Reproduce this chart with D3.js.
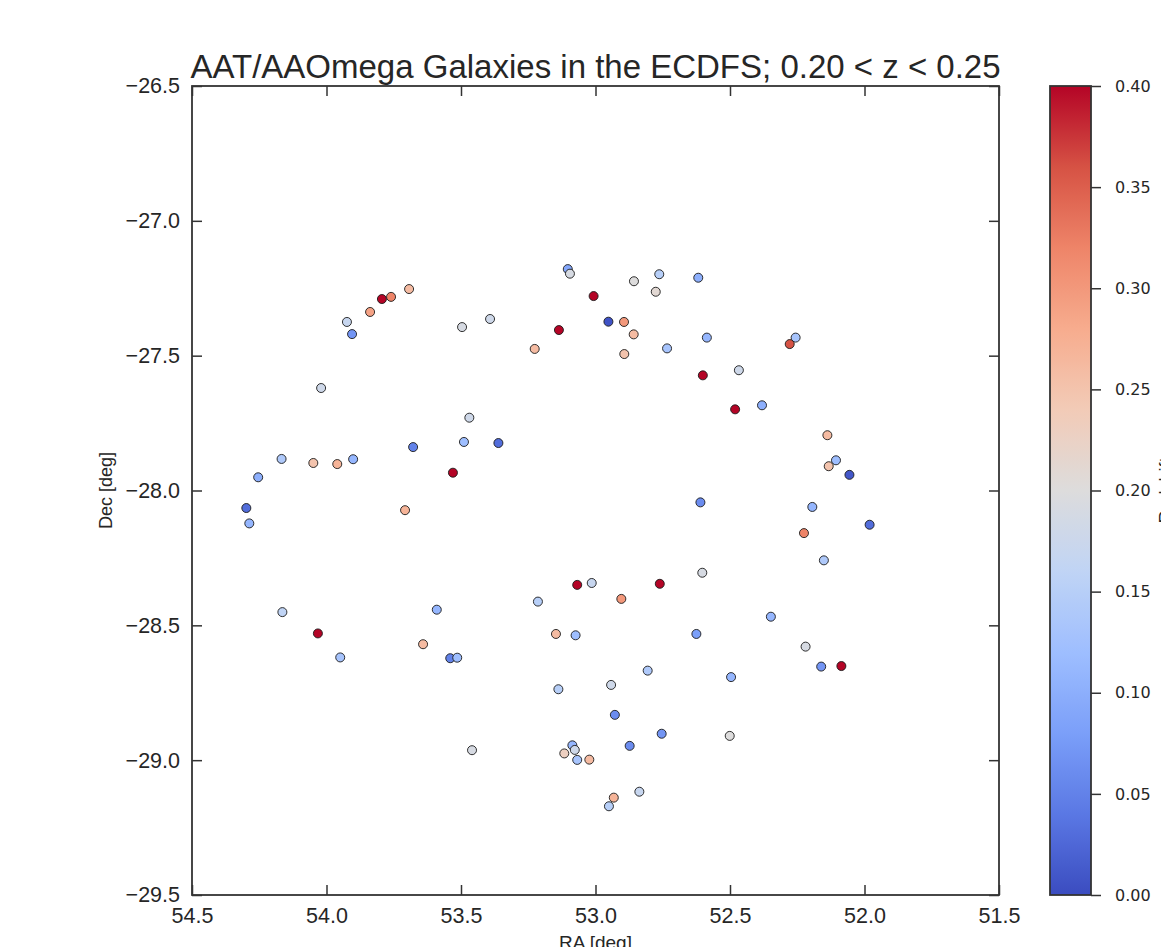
<!DOCTYPE html>
<html>
<head>
<meta charset="utf-8">
<script src="https://cdn.jsdelivr.net/npm/d3@7"></script>
<style>
  html, body { margin: 0; padding: 0; background: #fff; }
  svg { display: block; }
</style>
</head>
<body>
<svg id="chart" width="1161" height="947"></svg>
<script>
// ---- Data ----
const titleText = "AAT/AAOmega Galaxies in the ECDFS; 0.20 < z < 0.25";
const xLabel = "RA [deg]";
const yLabel = "Dec [deg]";
const cbLabel = "Redshift";

const ra = [
  53.794, 53.760, 53.693, 53.838, 53.924, 53.905, 54.020, 53.496, 53.392, 53.469,
  53.489, 53.361, 53.678, 53.530, 54.167, 54.254, 54.049, 53.960, 53.901, 54.298,
  54.287, 53.708, 53.103, 53.095, 52.857, 52.763, 52.618, 52.776, 53.007, 53.136,
  52.952, 52.894, 52.858, 53.226, 52.893, 52.734, 52.586, 52.467, 52.601, 52.481,
  52.381, 52.610, 52.256, 52.278, 52.138, 52.106, 52.133, 52.056, 52.194, 51.981,
  52.225, 52.151, 52.348, 52.219, 52.161, 52.086, 54.164, 54.032, 53.949, 53.590,
  53.641, 53.540, 53.514, 53.459, 53.068, 53.014, 52.761, 52.603, 52.904, 53.214,
  53.147, 53.074, 52.625, 52.806, 52.496, 53.138, 52.942, 52.928, 52.754, 52.501,
  52.873, 53.086, 53.077, 53.116, 53.068, 53.023, 52.837, 52.932, 52.950
];
const dec = [
  -27.290, -27.282, -27.253, -27.338, -27.375, -27.420, -27.620, -27.394, -27.364, -27.730,
  -27.820, -27.824, -27.839, -27.934, -27.883, -27.951, -27.898, -27.902, -27.884, -28.065,
  -28.122, -28.073, -27.179, -27.196, -27.224, -27.198, -27.211, -27.263, -27.279, -27.405,
  -27.374, -27.375, -27.421, -27.475, -27.494, -27.473, -27.433, -27.554, -27.573, -27.699,
  -27.684, -28.044, -27.433, -27.457, -27.795, -27.888, -27.910, -27.942, -28.061, -28.127,
  -28.158, -28.259, -28.468, -28.579, -28.653, -28.651, -28.451, -28.530, -28.619, -28.442,
  -28.570, -28.622, -28.620, -28.963, -28.350, -28.343, -28.346, -28.305, -28.402, -28.412,
  -28.532, -28.537, -28.532, -28.668, -28.692, -28.737, -28.721, -28.832, -28.902, -28.910,
  -28.947, -28.945, -28.962, -28.975, -28.999, -28.998, -29.117, -29.139, -29.171
];
const zval = [
  0.40, 0.32, 0.26, 0.29, 0.17, 0.07, 0.18, 0.19, 0.18, 0.18,
  0.12, 0.03, 0.05, 0.40, 0.14, 0.10, 0.25, 0.27, 0.11, 0.03,
  0.11, 0.27, 0.09, 0.19, 0.20, 0.15, 0.10, 0.21, 0.40, 0.40,
  0.005, 0.30, 0.26, 0.26, 0.25, 0.13, 0.11, 0.18, 0.40, 0.40,
  0.10, 0.06, 0.13, 0.36, 0.26, 0.12, 0.25, 0.01, 0.11, 0.03,
  0.32, 0.14, 0.11, 0.19, 0.07, 0.40, 0.16, 0.40, 0.13, 0.11,
  0.26, 0.05, 0.12, 0.19, 0.40, 0.17, 0.40, 0.19, 0.30, 0.15,
  0.26, 0.12, 0.08, 0.14, 0.11, 0.15, 0.18, 0.06, 0.07, 0.20,
  0.06, 0.11, 0.18, 0.23, 0.13, 0.26, 0.17, 0.27, 0.15
];

const xTicks = [54.5, 54.0, 53.5, 53.0, 52.5, 52.0, 51.5];
const yTicks = [-26.5, -27.0, -27.5, -28.0, -28.5, -29.0, -29.5];
const cbTicks = [0.00, 0.05, 0.10, 0.15, 0.20, 0.25, 0.30, 0.35, 0.40];

// coolwarm colormap stops
const cmapStops = ["#3b4cc0", "#5a78e4", "#7b9ff9", "#9ebeff", "#c0d4f5", "#dddcdc",
                   "#f2cbb7", "#f7ac8e", "#ee8468", "#d65244", "#b40426"];

// ---- Layout ----
const L = 192, R = 999, T = 86, B = 895;
const CBL = 1050, CBR = 1091;
const mainFont = "'Liberation Sans', Arial, Helvetica, sans-serif";
const cbFont = "'DejaVu Sans', Verdana, sans-serif";
const ink = "#262626";

const svg = d3.select("#chart");

const x = d3.scaleLinear().domain([54.5, 51.5]).range([L, R]);
const y = d3.scaleLinear().domain([-26.5, -29.5]).range([T, B]);
const zNorm = d3.scaleLinear().domain([0, 0.4]).range([0, 1]).clamp(true);
const cmap = d3.scaleLinear()
  .domain(cmapStops.map((d, i) => i / (cmapStops.length - 1)))
  .range(cmapStops)
  .interpolate(d3.interpolateRgb);
const color = v => cmap(zNorm(v));

// Title
svg.append("text")
  .attr("x", (L + R) / 2).attr("y", 78)
  .attr("text-anchor", "middle")
  .attr("font-family", mainFont).attr("font-size", 33)
  .attr("fill", ink)
  .text(titleText);

// Points
const pts = ra.map((r, i) => ({ ra: r, dec: dec[i], z: zval[i] }));
svg.append("g")
  .selectAll("circle")
  .data(pts)
  .join("circle")
  .attr("cx", d => x(d.ra))
  .attr("cy", d => y(d.dec))
  .attr("r", 4.5)
  .attr("fill", d => color(d.z))
  .attr("stroke", "#1a1a1a")
  .attr("stroke-width", 0.9);

// Axes
function styleAxis(g, showText) {
  g.select(".domain").remove();
  g.selectAll(".tick line").attr("stroke", "#333").attr("stroke-width", 1.5);
  g.selectAll(".tick text")
    .attr("font-family", mainFont).attr("font-size", 21.5).attr("fill", ink);
  if (!showText) g.selectAll(".tick text").remove();
}

svg.append("g").attr("transform", `translate(0,${B})`)
  .call(d3.axisBottom(x).tickValues(xTicks).tickFormat(d3.format(".1f"))
    .tickSizeInner(-10).tickSizeOuter(0).tickPadding(13))
  .call(g => styleAxis(g, true));

svg.append("g").attr("transform", `translate(0,${T})`)
  .call(d3.axisTop(x).tickValues(xTicks).tickSizeInner(-10).tickSizeOuter(0))
  .call(g => styleAxis(g, false));

svg.append("g").attr("transform", `translate(${L},0)`)
  .call(d3.axisLeft(y).tickValues(yTicks).tickFormat(d3.format(".1f"))
    .tickSizeInner(-10).tickSizeOuter(0).tickPadding(12))
  .call(g => styleAxis(g, true));

svg.append("g").attr("transform", `translate(${R},0)`)
  .call(d3.axisRight(y).tickValues(yTicks).tickSizeInner(-10).tickSizeOuter(0))
  .call(g => styleAxis(g, false));

// Frame
svg.append("rect")
  .attr("x", L).attr("y", T).attr("width", R - L).attr("height", B - T)
  .attr("fill", "none").attr("stroke", "#333").attr("stroke-width", 1.8);

// Axis labels
svg.append("text")
  .attr("x", (L + R) / 2).attr("y", 949)
  .attr("text-anchor", "middle")
  .attr("font-family", mainFont).attr("font-size", 19).attr("fill", ink)
  .text(xLabel);

svg.append("text")
  .attr("transform", `translate(112,${(T + B) / 2}) rotate(-90)`)
  .attr("text-anchor", "middle")
  .attr("font-family", mainFont).attr("font-size", 18).attr("fill", ink)
  .text(yLabel);

// Colorbar
const cbScale = d3.scaleLinear().domain([0, 0.4]).range([B, T]);
const defs = svg.append("defs");
const grad = defs.append("linearGradient")
  .attr("id", "cbgrad").attr("x1", 0).attr("y1", 1).attr("x2", 0).attr("y2", 0);
d3.range(0, 1.0001, 0.02).forEach(t => {
  grad.append("stop").attr("offset", t).attr("stop-color", cmap(t));
});
svg.append("rect")
  .attr("x", CBL).attr("y", T).attr("width", CBR - CBL).attr("height", B - T)
  .attr("fill", "url(#cbgrad)")
  .attr("stroke", "#333").attr("stroke-width", 1.8);

const cbAxis = svg.append("g").attr("transform", `translate(${CBR},0)`)
  .call(d3.axisRight(cbScale).tickValues(cbTicks).tickFormat(d3.format(".2f"))
    .tickSizeInner(10).tickSizeOuter(0).tickPadding(14));
cbAxis.select(".domain").remove();
cbAxis.selectAll(".tick line").attr("stroke", "#333").attr("stroke-width", 1.5);
cbAxis.selectAll(".tick text")
  .attr("font-family", cbFont).attr("font-size", 16).attr("fill", ink);

svg.append("text")
  .attr("transform", `translate(1172,${(T + B) / 2}) rotate(-90)`)
  .attr("text-anchor", "middle")
  .attr("font-family", mainFont).attr("font-size", 18).attr("fill", ink)
  .text(cbLabel);
</script>
</body>
</html>
